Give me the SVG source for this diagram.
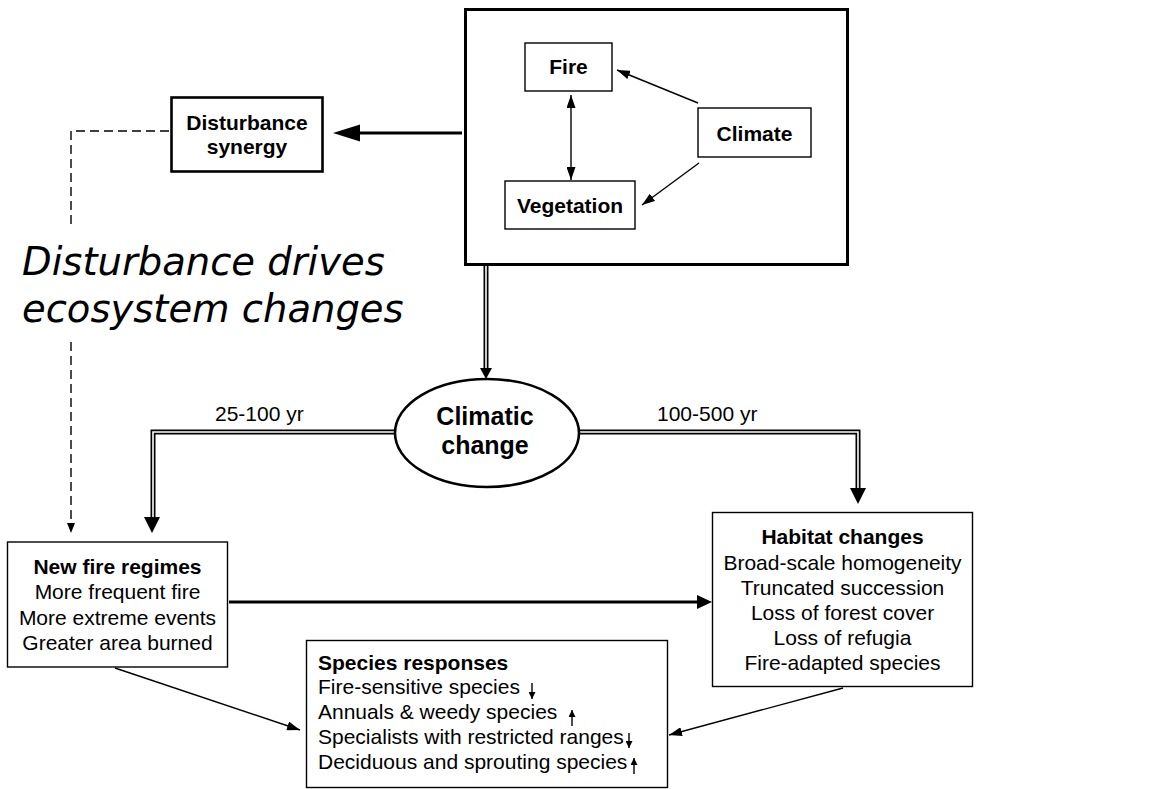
<svg xmlns="http://www.w3.org/2000/svg" width="1165" height="789" viewBox="0 0 1165 789">
<style>
text{font-family:"Liberation Sans",Arial,sans-serif;font-size:21px;fill:#000}
.b{font-weight:bold}
.c{text-anchor:middle}
.box{fill:#fff;stroke:#000;stroke-width:1.4}
.ln{fill:none;stroke:#000;stroke-width:1.4}
.it{font-family:"DejaVu Sans",sans-serif;font-style:italic;font-size:38.5px}
</style>
<defs>
<marker id="ah" markerUnits="userSpaceOnUse" markerWidth="13" markerHeight="9" refX="13" refY="4.5" orient="auto-start-reverse"><path d="M0,0 L13,4.5 L0,9 z" fill="#000"/></marker>
<marker id="as" markerUnits="userSpaceOnUse" markerWidth="7" markerHeight="7" refX="7" refY="3.5" orient="auto-start-reverse"><path d="M0,0 L7,3.5 L0,7 z" fill="#000"/></marker>
</defs>

<g id="climate-system">
<rect x="465.5" y="9.5" width="382" height="255" fill="#fff" stroke="#000" stroke-width="3"/>
</g>

<g id="connectors">
<line class="ln" x1="571" y1="95" x2="571" y2="180" marker-start="url(#ah)" marker-end="url(#ah)"/>
<line class="ln" x1="698" y1="103" x2="617" y2="70" marker-end="url(#ah)"/>
<line class="ln" x1="699" y1="163" x2="642" y2="205" marker-end="url(#ah)"/>
<line x1="462" y1="133" x2="352" y2="133" stroke="#000" stroke-width="3.2"/>
<polygon points="333,133 360,124.5 360,141.5" fill="#000"/>
<path d="M169,131 H71 V227" fill="none" stroke="#000" stroke-width="1.4" stroke-dasharray="9,5"/>
<path d="M71,342 V524" fill="none" stroke="#000" stroke-width="1.4" stroke-dasharray="9,5"/>
<polygon points="71,533 67,523 75,523" fill="#000"/>
<path d="M486,266 V369" fill="none" stroke="#000" stroke-width="5"/>
<path d="M486,266 V369" fill="none" stroke="#fff" stroke-width="1.6"/>
<polygon points="486,379 480,368 492,368" fill="#000"/>
<path d="M396,432 H153 V518" fill="none" stroke="#000" stroke-width="5"/>
<path d="M396,432 H153 V518" fill="none" stroke="#fff" stroke-width="1.6"/>
<polygon points="152,533 144,517 160,517" fill="#000"/>
<path d="M579,432 H858 V489" fill="none" stroke="#000" stroke-width="5"/>
<path d="M579,432 H858 V489" fill="none" stroke="#fff" stroke-width="1.6"/>
<polygon points="858,504 850,488 866,488" fill="#000"/>
<line x1="229" y1="602" x2="699" y2="602" stroke="#000" stroke-width="3.2"/>
<polygon points="712,602 697,595 697,609" fill="#000"/>
<line class="ln" x1="115" y1="668" x2="300" y2="730" marker-end="url(#ah)"/>
<line class="ln" x1="843" y1="688" x2="669" y2="735" marker-end="url(#ah)"/>
</g>

<g id="fire">
<rect class="box" x="525" y="43" width="87" height="48"/>
<text class="b c" x="568.5" y="74">Fire</text>
</g>
<g id="vegetation">
<rect class="box" x="505" y="181" width="130" height="48"/>
<text class="b c" x="570" y="213">Vegetation</text>
</g>
<g id="climate">
<rect class="box" x="698" y="108" width="113" height="49"/>
<text class="b c" x="754.5" y="141">Climate</text>
</g>
<g id="disturbance-synergy">
<rect x="171.5" y="97.5" width="151" height="74" fill="#fff" stroke="#000" stroke-width="2.6"/>
<text class="b c" x="247" y="130">Disturbance</text>
<text class="b c" x="247" y="154">synergy</text>
</g>
<g id="disturbance-label">
<text class="it" x="22" y="275">Disturbance drives</text>
<text class="it" x="22" y="322">ecosystem changes</text>
</g>
<g id="climatic-change">
<ellipse cx="487" cy="433" rx="92" ry="54" fill="#fff" stroke="#000" stroke-width="2.6"/>
<text class="b c" x="485" y="425" style="font-size:25px">Climatic</text>
<text class="b c" x="485" y="454" style="font-size:25px">change</text>
</g>
<g id="labels">
<text x="215" y="421">25-100 yr</text>
<text x="657" y="421">100-500 yr</text>
</g>
<g id="new-fire-regimes">
<rect class="box" x="7.5" y="542" width="220" height="125"/>
<text class="b c" x="117.5" y="574">New fire regimes</text>
<text class="c" x="117.5" y="599">More frequent fire</text>
<text class="c" x="117.5" y="625">More extreme events</text>
<text class="c" x="117.5" y="650">Greater area burned</text>
</g>
<g id="habitat-changes">
<rect class="box" x="712.5" y="512.5" width="260" height="174"/>
<text class="b c" x="842.5" y="544">Habitat changes</text>
<text class="c" x="842.5" y="570">Broad-scale homogeneity</text>
<text class="c" x="842.5" y="595">Truncated succession</text>
<text class="c" x="842.5" y="620">Loss of forest cover</text>
<text class="c" x="842.5" y="645">Loss of refugia</text>
<text class="c" x="842.5" y="670">Fire-adapted species</text>
</g>
<g id="species-responses">
<rect class="box" x="306.5" y="640.5" width="361" height="147"/>
<text class="b" x="318" y="670">Species responses</text>
<text x="318" y="694">Fire-sensitive species</text>
<text x="318" y="719">Annuals &amp; weedy species</text>
<text x="318" y="744">Specialists with restricted ranges</text>
<text x="318" y="769">Deciduous and sprouting species</text>
<line class="ln" x1="532" y1="683" x2="532" y2="699" marker-end="url(#as)"/>
<line class="ln" x1="572" y1="726" x2="572" y2="710" marker-end="url(#as)"/>
<line class="ln" x1="629" y1="733" x2="629" y2="748" marker-end="url(#as)"/>
<line class="ln" x1="634" y1="774" x2="634" y2="758" marker-end="url(#as)"/>
</g>
</svg>
